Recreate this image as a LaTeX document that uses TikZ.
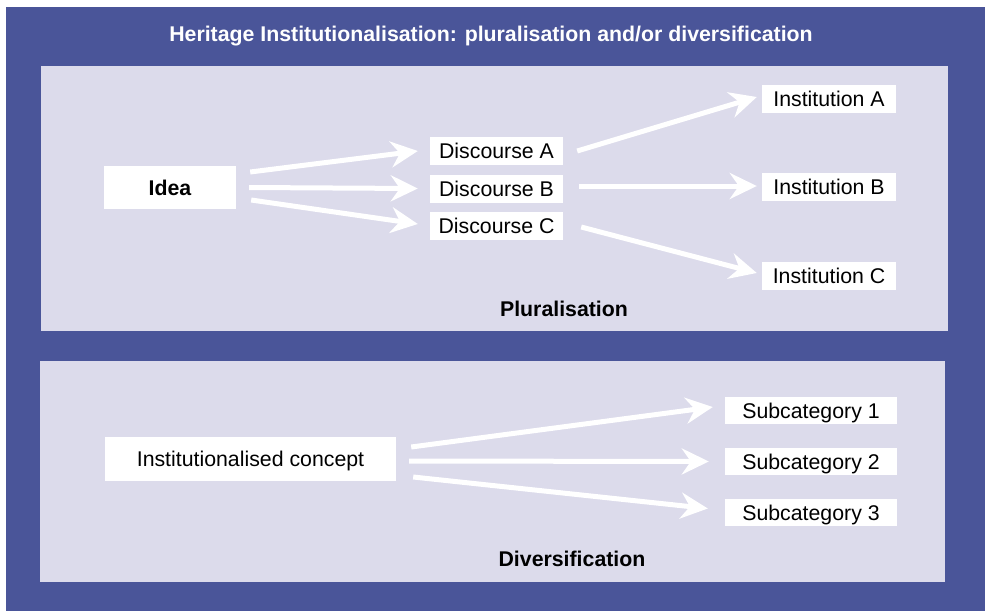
\documentclass[tikz,border=0pt]{standalone}
\usepackage{fontspec}
\setmainfont{Liberation Sans}
\usetikzlibrary{arrows.meta, positioning}
\definecolor{frameblue}{RGB}{74,85,153}
\definecolor{panelblue}{RGB}{220,219,235}

\begin{document}
\begin{tikzpicture}[x=1pt, y=-1pt, node distance=37.5pt]
    \tikzstyle{block} = [rectangle, fill=white, inner sep=0pt, minimum width=133pt, minimum height=28pt, text height=15.3pt, text depth=0pt, font=\fontsize{21.3}{25}\selectfont]
    \tikzstyle{heading} = [inner sep=0pt, text height=15.3pt, text depth=0pt, font=\fontsize{21.3}{25}\selectfont\bfseries]
    \tikzstyle{line} = [draw=white, line width=5pt, -{Stealth[length=27pt, width=26pt, inset=9pt]}]

    \useasboundingbox (0,0) rectangle (985,611);

    % 背景
    \fill[frameblue] (6,7) rectangle (985,611);
    \fill[panelblue] (41,66) rectangle (948,331);
    \fill[panelblue] (40,361) rectangle (945,582);

    \node[heading, text=white] (title) at (491,34) {Heritage Institutionalisation: pluralisation and/or diversification};

    % 定义节点 (Pluralisation)
    \node[block, minimum width=132pt, minimum height=43pt, font=\fontsize{21.3}{25}\selectfont\bfseries] (idea) at (170,187.5) {Idea};
    \node[block] (discB) at (496.5,188.5) {Discourse B};
    \node[block, above of=discB] (discA) {Discourse A};
    \node[block, below of=discB] (discC) {Discourse C};

    \node[block, minimum width=134pt] (instB) at (829,187) {Institution B};
    \node[block, minimum width=134pt, above of=instB, node distance=88pt] (instA) {Institution A};
    \node[block, minimum width=134pt, below of=instB, node distance=88.5pt] (instC) {Institution C};

    \node[heading] (plural) at (564,309) {Pluralisation};

    % 定义节点 (Diversification)
    \node[block, minimum width=291pt, minimum height=44pt] (concept) at (250.5,459) {Institutionalised concept};
    \node[block, minimum width=172pt, minimum height=27pt] (sub2) at (811,461.5) {Subcategory 2};
    \node[block, minimum width=172pt, minimum height=27pt, above of=sub2, node distance=51pt] (sub1) {Subcategory 1};
    \node[block, minimum width=172pt, minimum height=27pt, below of=sub2, node distance=51pt] (sub3) {Subcategory 3};

    \node[heading] (divers) at (572,559) {Diversification};

    % 添加箭头
    \path [line] ([shift={(14,-15.5)}]idea.east) -- ([xshift=-12pt]discA.west);
    \path [line] ([xshift=13pt]idea.east) -- ([xshift=-12pt]discB.west);
    \path [line] ([shift={(15,12.5)}]idea.east) -- ([shift={(-12,-2)}]discC.west);

    \path [line] ([xshift=14pt]discA.east) -- ([shift={(-5,-2)}]instA.west);
    \path [line] ([shift={(16,-2.5)}]discB.east) -- ([shift={(-5,-1)}]instB.west);
    \path [line] ([shift={(18,1)}]discC.east) -- ([shift={(-5,-2.5)}]instC.west);

    \path [line] ([shift={(15,-12)}]concept.east) -- ([shift={(-12,-3.5)}]sub1.west);
    \path [line] ([shift={(13,2)}]concept.east) -- ([xshift=-16pt]sub2.west);
    \path [line] ([shift={(17,18)}]concept.east) -- ([shift={(-17,-4)}]sub3.west);
\end{tikzpicture}
\end{document}
